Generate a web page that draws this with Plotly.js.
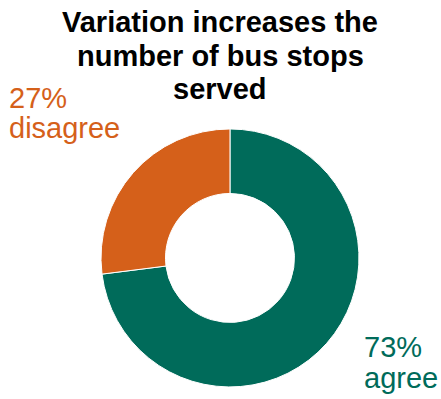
<!DOCTYPE html>
<html><head><meta charset="utf-8">
<script src="https://cdn.plot.ly/plotly-3.0.1.min.js"></script>
<style>html,body{margin:0;padding:0;background:#fff}#chart{width:441px;height:399px}</style>
</head><body><div id="chart"></div>
<script>
const categories = ["agree", "disagree"];
const values = [73, 27];
const colors = ["#006B5A", "#D5601A"];
const titleLines = ["Variation increases the", "number of bus stops", "served"];

const trace = {
  type: "pie",
  labels: categories,
  values: values,
  hole: 0.5,
  sort: false,
  direction: "clockwise",
  rotation: 0,
  textinfo: "none",
  hoverinfo: "label+percent",
  marker: {colors: colors, line: {color: "#ffffff", width: 1}},
  domain: {x: [0.229, 0.814], y: [0.030, 0.677]},
  showlegend: false
};

const H = 399, W = 441;
const font = "Liberation Sans, Arial, sans-serif";
const annotations = [];
// title lines (top positions in px)
const titleTops = [4, 38, 71];
titleLines.forEach((t, i) => annotations.push({
  text: "<b>" + t + "</b>", xref: "paper", yref: "paper",
  x: 220 / W, y: 1 - titleTops[i] / H, xanchor: "center", yanchor: "top",
  showarrow: false, font: {family: font, size: 29, color: "#000000"}
}));
// slice labels: two lines each
const labelPos = [
  {x: 362, tops: [329, 360]},
  {x: 7, tops: [80, 110]}
];
categories.forEach((c, i) => {
  const lines = [values[i] + "%", c];
  lines.forEach((t, j) => annotations.push({
    text: t, xref: "paper", yref: "paper",
    x: labelPos[i].x / W, y: 1 - labelPos[i].tops[j] / H,
    xanchor: "left", yanchor: "top", align: "left", showarrow: false,
    font: {family: font, size: 29, color: colors[i]}
  }));
});

const layout = {
  width: W, height: H,
  margin: {l: 0, r: 0, t: 0, b: 0},
  paper_bgcolor: "#ffffff",
  annotations: annotations
};

Plotly.newPlot("chart", [trace], layout, {displayModeBar: false, staticPlot: true});
</script></body></html>
